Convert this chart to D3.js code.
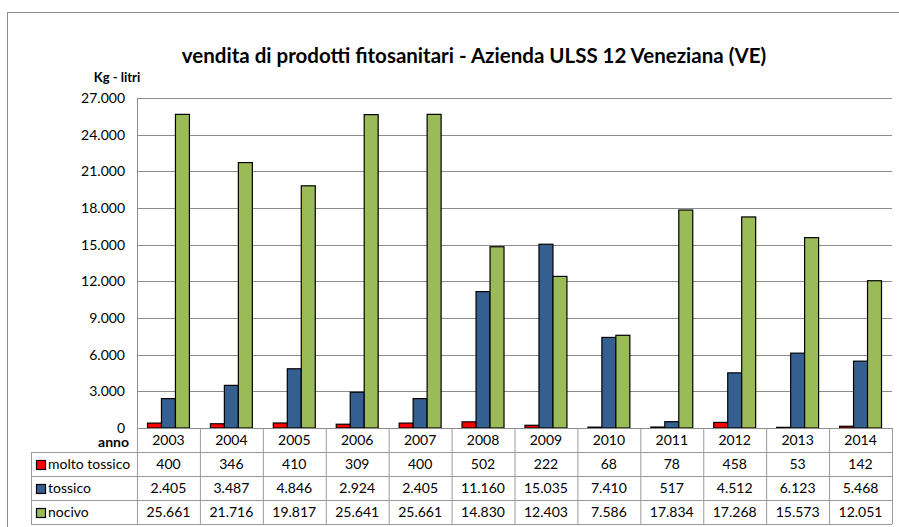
<!DOCTYPE html>
<html>
<head>
<meta charset="utf-8">
<script src="https://cdn.jsdelivr.net/npm/d3@7"></script>
<style>
  body { margin: 0; background: #fff; }
  svg { display: block; }
</style>
</head>
<body>
<svg id="chart" width="899" height="527"></svg>
<script>
//Chart data
var years = ["2003","2004","2005","2006","2007","2008","2009","2010","2011","2012","2013","2014"];
var seriesNames = ["molto tossico", "tossico", "nocivo"];
var moltoTossico = [400, 346, 410, 309, 400, 502, 222, 68, 78, 458, 53, 142];
var tossico = [2405, 3487, 4846, 2924, 2405, 11160, 15035, 7410, 517, 4512, 6123, 5468];
var nocivo = [25661, 21716, 19817, 25641, 25661, 14830, 12403, 7586, 17834, 17268, 15573, 12051];
var yTicks = [0, 3000, 6000, 9000, 12000, 15000, 18000, 21000, 24000, 27000];
var colours = ["#ff0000", "#365f91", "#9bbb59"];

var allSeries = [moltoTossico, tossico, nocivo];
var font = "Lato, 'Open Sans', sans-serif";
var fmt = d3.formatLocale({decimal: ",", thousands: ".", grouping: [3], currency: ["", ""]}).format(",");

var svg = d3.select("#chart");

//Set some initial values
var plotLeft = 137, plotRight = 892, plotTop = 98, zeroY = 428;
var rowH = 24, tableLeft = 31;

//Outer frame
svg.append("rect")
    .attr("x", 7.5).attr("y", 12.5)
    .attr("width", 900).attr("height", 520)
    .attr("fill", "none")
    .attr("stroke", "#8c8c8c");

//Scales
var x = d3.scaleBand()
    .domain(years)
    .range([plotLeft, plotRight]);
var y = d3.scaleLinear()
    .domain([0, 27000])
    .range([zeroY, plotTop]);
var xs = d3.scaleBand()
    .domain([0, 1, 2])
    .range([0, x.bandwidth()])
    .paddingOuter(0.75)
    .paddingInner(0);

//Gridlines and y axis
svg.append("g").selectAll("line")
    .data(yTicks.slice(1))
    .enter()
    .append("line")
    .attr("x1", plotLeft).attr("x2", plotRight)
    .attr("y1", function(d) { return Math.round(y(d)) + 0.5; })
    .attr("y2", function(d) { return Math.round(y(d)) + 0.5; })
    .attr("stroke", "#8c8c8c")
    .attr("stroke-width", 1.2);

var yAxis = svg.append("g")
    .attr("transform", "translate(" + plotLeft + ",0)")
    .call(d3.axisLeft(y).tickValues(yTicks).tickSize(0).tickPadding(12).tickFormat(fmt));
yAxis.select(".domain").attr("stroke", "#8c8c8c");
yAxis.selectAll("text")
    .style("font-family", font)
    .style("font-size", "14px")
    .attr("fill", "#000");

//Bars
allSeries.forEach(function(vals, s) {
    svg.append("g").selectAll("rect")
        .data(vals)
        .enter()
        .append("rect")
        .attr("x", function(d, i) { return x(years[i]) + xs(s); })
        .attr("y", function(d) { return y(d); })
        .attr("width", xs.bandwidth())
        .attr("height", function(d) { return zeroY - y(d); })
        .attr("fill", colours[s])
        .attr("stroke", "#000")
        .attr("stroke-width", 1.2);
});

//Data table
var tableG = svg.append("g");
var lineCol = "#9a9a9a";
//horizontal lines
[0, 1, 2, 3, 4].forEach(function(r) {
    tableG.append("line")
        .attr("x1", r === 0 ? plotLeft : tableLeft).attr("x2", plotRight)
        .attr("y1", zeroY + r * rowH + 0.5).attr("y2", zeroY + r * rowH + 0.5)
        .attr("stroke", r === 0 ? "#8c8c8c" : lineCol);
});
//vertical lines
years.forEach(function(yr) {
    tableG.append("line")
        .attr("x1", x(yr) + 0.5).attr("x2", x(yr) + 0.5)
        .attr("y1", zeroY).attr("y2", zeroY + 4 * rowH)
        .attr("stroke", lineCol);
});
tableG.append("line")
    .attr("x1", plotRight + 0.5).attr("x2", plotRight + 0.5)
    .attr("y1", zeroY).attr("y2", zeroY + 4 * rowH)
    .attr("stroke", lineCol);
tableG.append("line")
    .attr("x1", tableLeft + 0.5).attr("x2", tableLeft + 0.5)
    .attr("y1", zeroY + rowH).attr("y2", zeroY + 4 * rowH)
    .attr("stroke", lineCol);

//year labels
tableG.selectAll(".yr")
    .data(years)
    .enter()
    .append("text")
    .attr("x", function(d) { return x(d) + x.bandwidth() / 2; })
    .attr("y", zeroY + rowH / 2 + 5)
    .attr("text-anchor", "middle")
    .style("font-family", font)
    .style("font-size", "14px")
    .text(function(d) { return d; });

//row labels and values
allSeries.forEach(function(vals, s) {
    var rowY = zeroY + (s + 1) * rowH;
    tableG.append("rect")
        .attr("x", 36.5).attr("y", rowY + 8.5)
        .attr("width", 9).attr("height", 9)
        .attr("fill", colours[s])
        .attr("stroke", "#000")
        .attr("stroke-width", 1.2);
    tableG.append("text")
        .attr("x", 48)
        .attr("y", rowY + rowH / 2 + 5)
        .style("font-family", font)
        .style("font-size", "14px")
        .text(seriesNames[s]);
    tableG.append("g").selectAll("text")
        .data(vals)
        .enter()
        .append("text")
        .attr("x", function(d, i) { return x(years[i]) + x.bandwidth() / 2; })
        .attr("y", rowY + rowH / 2 + 5)
        .attr("text-anchor", "middle")
        .style("font-family", font)
        .style("font-size", "14px")
        .text(function(d) { return fmt(d); });
});

//Axis titles
svg.append("text")
    .attr("x", 129).attr("y", 447)
    .attr("text-anchor", "end")
    .style("font-family", font)
    .style("font-size", "14px")
    .style("font-weight", "bold")
    .text("anno");
svg.append("text")
    .attr("x", 117).attr("y", 82)
    .attr("text-anchor", "middle")
    .style("font-family", font)
    .style("font-size", "13px")
    .style("font-weight", "bold")
    .text("Kg - litri");

//Create the chart title
svg.append("text")
    .attr("x", 474).attr("y", 63)
    .attr("text-anchor", "middle")
    .style("font-family", font)
    .style("font-size", "20.5px")
    .style("font-weight", "bold")
    .text("vendita di prodotti fitosanitari - Azienda ULSS 12 Veneziana (VE)");
</script>
</body>
</html>
